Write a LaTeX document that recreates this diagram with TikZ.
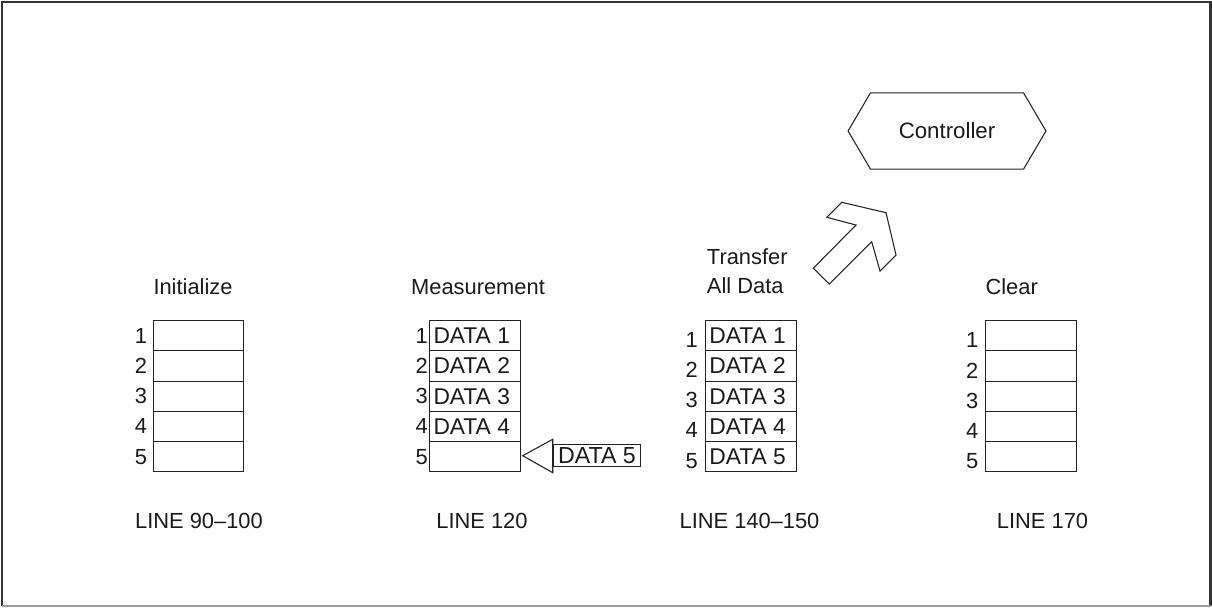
\documentclass[tikz,border=0pt]{standalone}
\usepackage{fontspec}
\setmainfont{Liberation Sans}
\usetikzlibrary{calc}
\definecolor{ink}{HTML}{1A1A1A}
\definecolor{linec}{HTML}{222222}
\definecolor{framedark}{HTML}{333333}
\definecolor{framelight}{HTML}{9A9A9A}
\begin{document}
\begin{tikzpicture}[x=0.75pt,y=-0.75pt,
  every node/.style={font=\fontsize{16.4}{19}\selectfont, text=ink},
  cell/.style={draw=linec, line width=0.8pt, minimum width=67.9pt, minimum height=22.65pt, inner sep=0pt, outer sep=0pt},
  datatext/.style={anchor=west, inner sep=0pt, font=\fontsize{17.1}{20}\selectfont},
  outline/.style={draw=linec, line width=0.8pt, line join=miter}]
\useasboundingbox (0,0) rectangle (1212,607);
% frame
\draw[framedark, line width=1.7pt] (2,606) -- (2,2) -- (1210.6,2) -- (1210.6,606);
\draw[framelight, line width=1.5pt] (1.5,605.8) -- (1211.3,605.8);

% tables
\foreach \t/\cx/\nx/\dy in {ini/198.5/141/0, mea/475/421.7/0, tra/750.8/691.7/4, clr/1030.8/972.3/4.5} {
  \foreach \i in {1,...,5} {
    \node[cell] (\t\i) at (\cx, {320.7+30.2*(\i-0.5)}) {};
    \node[inner sep=0pt] (\t n\i) at (\nx, {320.7+30.2*(\i-0.5)+\dy}) {\i};
  }
}
\foreach \i in {1,...,4} {
  \node[datatext] (meadata\i) at ($(mea\i.west)+(3.5,0)$) {DATA \i};
}
\foreach \i in {1,...,5} {
  \node[datatext] (tradata\i) at ($(tra\i.west)+(3.5,0)$) {DATA \i};
}

% headers
\node (hini) at (193,287) {Initialize};
\node (hmea) at (478,287) {Measurement};
\node[anchor=west, inner sep=0pt] (htra1) at (706.7,257) {Transfer};
\node[anchor=west, inner sep=0pt] (htra2) at (706.7,286) {All Data};
\node (hclr) at (1011.7,287) {Clear};

% line labels
\node (lini) at (199,521) {LINE 90–100};
\node (lmea) at (482,521) {LINE 120};
\node (ltra) at (749.5,521) {LINE 140–150};
\node (lclr) at (1042.5,521) {LINE 170};

% DATA 5 arrow
\node[draw=linec, line width=0.8pt, minimum width=65.6pt, minimum height=16.8pt, inner sep=0pt,
      font=\fontsize{17.4}{20}\selectfont] (d5) at (597,455.5) {DATA 5};
\draw[outline] ($(d5.west)+(0,-16.2)$) -- ($(d5.west)+(-30,0.2)$) -- ($(d5.west)+(0,17.2)$) -- cycle;

% controller
\node[minimum width=148pt, minimum height=56.8pt, inner sep=0pt, font=\fontsize{16.7}{19}\selectfont] (ctrl) at (947,131) {Controller};
\draw[outline] (ctrl.west) -- ($(ctrl.north west)+(22.4,0)$) -- ($(ctrl.north east)+(-22.4,0)$)
  -- (ctrl.east) -- ($(ctrl.south east)+(-22.4,0)$) -- ($(ctrl.south west)+(22.4,0)$) -- cycle;

% transfer arrow
\draw[outline] (826.7,217.3) -- (841.7,202.3) -- (886,212.7) -- (896,255) -- (880,271)
  -- (871.7,241.7) -- (829.3,284) -- (813.3,268.3) -- (856,225) -- cycle;
\end{tikzpicture}
\end{document}
